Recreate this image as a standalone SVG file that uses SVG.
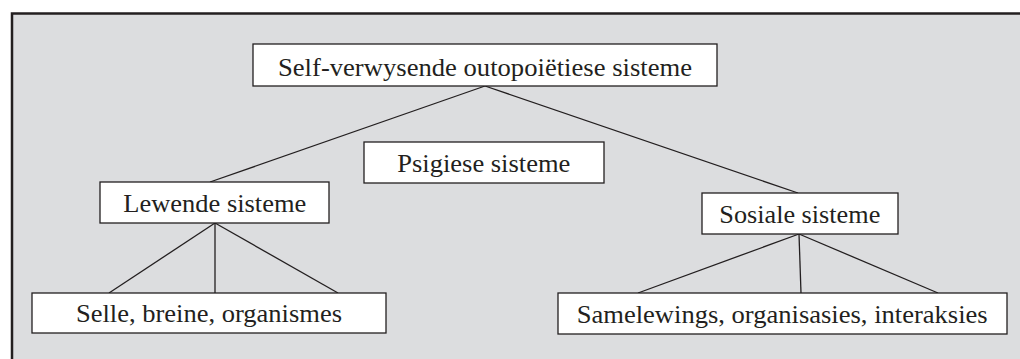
<svg xmlns="http://www.w3.org/2000/svg" width="1020" height="359" viewBox="0 0 1020 359">
<style>
.box{fill:#ffffff;stroke:#231f20;stroke-width:1.3}
.t{font-size:25px;fill:#231f20}
.c line{stroke:#231f20;stroke-width:1.3}
</style>
<rect x="0" y="0" width="1020" height="359" fill="#ffffff"/>
<rect x="12" y="13.5" width="1030" height="360" fill="#dcdddf" stroke="#231f20" stroke-width="2.5"/>
<g class="c" id="connectors">
<line x1="485" y1="86" x2="210" y2="182"/>
<line x1="485" y1="86" x2="798" y2="193"/>
<line x1="215" y1="223" x2="109" y2="293"/>
<line x1="215" y1="223" x2="215" y2="293"/>
<line x1="215" y1="223" x2="338" y2="293"/>
<line x1="799" y1="234" x2="638" y2="293"/>
<line x1="799" y1="234" x2="801" y2="293"/>
<line x1="799" y1="234" x2="938" y2="293"/>
</g>
<g id="top"><rect class="box" x="253" y="44" width="464" height="42"/><text class="t" font-family="Liberation Serif, Times New Roman, serif" x="278" y="76" textLength="414" lengthAdjust="spacingAndGlyphs">Self-verwysende outopoiëtiese sisteme</text></g>
<g id="psigiese"><rect class="box" x="364" y="142" width="240" height="41"/><text class="t" font-family="Liberation Serif, Times New Roman, serif" x="397.3" y="171.7" textLength="173" lengthAdjust="spacingAndGlyphs">Psigiese sisteme</text></g>
<g id="lewende"><rect class="box" x="100" y="182" width="229" height="41"/><text class="t" font-family="Liberation Serif, Times New Roman, serif" x="123.3" y="212" textLength="183" lengthAdjust="spacingAndGlyphs">Lewende sisteme</text></g>
<g id="sosiale"><rect class="box" x="702" y="193" width="196" height="41"/><text class="t" font-family="Liberation Serif, Times New Roman, serif" x="719.3" y="223" textLength="161" lengthAdjust="spacingAndGlyphs">Sosiale sisteme</text></g>
<g id="selle"><rect class="box" x="32" y="293" width="354" height="40"/><text class="t" font-family="Liberation Serif, Times New Roman, serif" x="76" y="321.7" textLength="266" lengthAdjust="spacingAndGlyphs">Selle, breine, organismes</text></g>
<g id="samelewings"><rect class="box" x="558" y="293" width="449" height="41"/><text class="t" font-family="Liberation Serif, Times New Roman, serif" x="576.7" y="323.3" textLength="411" lengthAdjust="spacingAndGlyphs">Samelewings, organisasies, interaksies</text></g>
</svg>
